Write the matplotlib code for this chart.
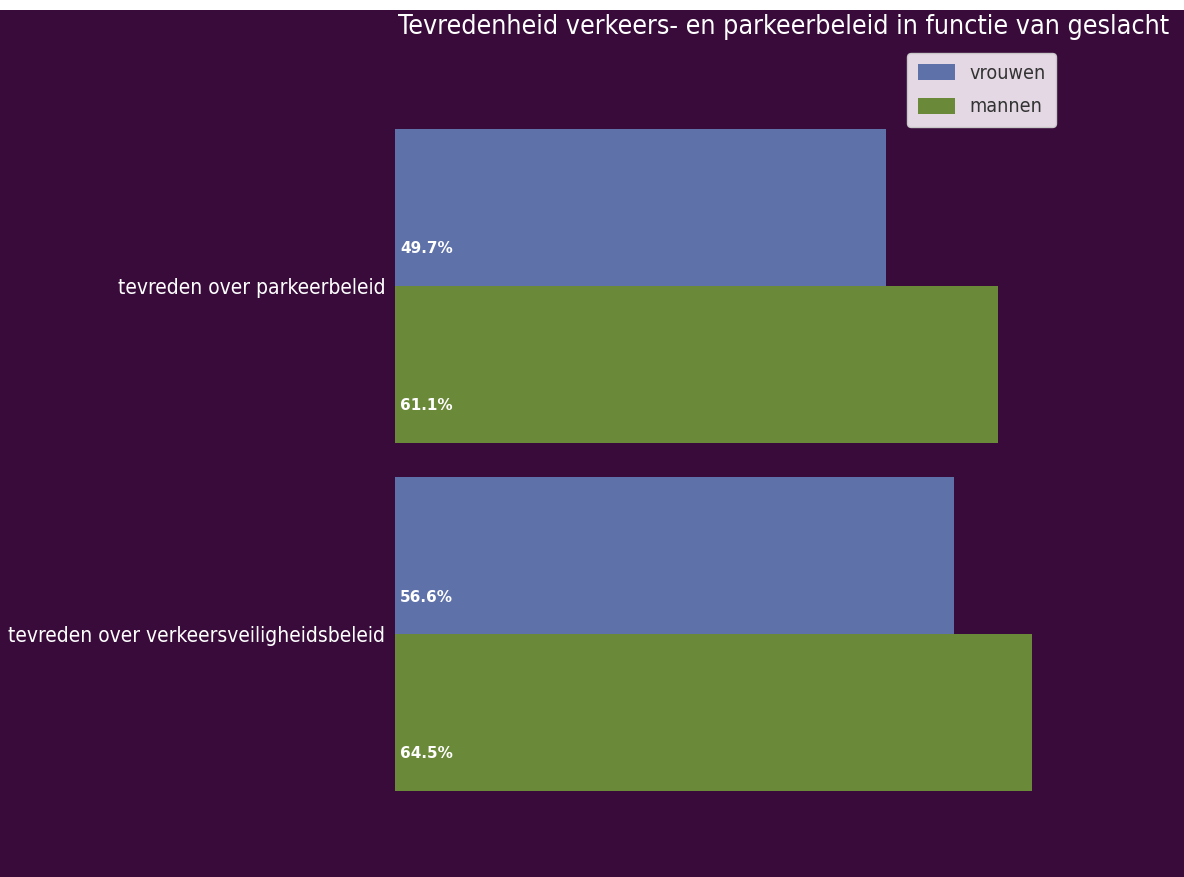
import matplotlib.pyplot as plt
import matplotlib.font_manager as fm
import numpy as np
from matplotlib.patches import Rectangle

categories = ["tevreden over verkeersveiligheidsbeleid", "tevreden over parkeerbeleid"]
vrouwen = [56.6, 49.7]
mannen = [64.5, 61.1]
series_names = ["vrouwen", "mannen"]

bg = "#390b3b"
blue = "#5f71a9"
green = "#6a8a39"

# the reference text looks narrow and tall -> use DejaVu Sans Condensed if present
cond = [f.fname for f in fm.fontManager.ttflist
        if f.name == "DejaVu Sans" and "ondensed" in str(f.stretch)
        and f.style == "normal" and f.weight in (400, "normal", "book", "regular")]
if cond:
    base = fm.FontProperties(fname=cond[0])
    k = 1.0 / 0.9
else:
    base = fm.FontProperties(family="DejaVu Sans")
    k = 1.0


def fp(size):
    p = base.copy()
    p.set_size(size * k)
    return p


fig = plt.figure(figsize=(11.84, 8.77), dpi=100, facecolor=bg)
ax = fig.add_axes([395 / 1184, 1 - 860 / 877, (1172 - 395) / 1184, (860 - 45) / 877])
ax.set_facecolor(bg)

y = np.arange(len(categories))
h = 0.45
ax.barh(y + h / 2, vrouwen, height=h, color=blue, label=series_names[0])
ax.barh(y - h / 2, mannen, height=h, color=green, label=series_names[1])

# labels at the bottom-left of each bar
for i in range(len(categories)):
    ax.text(0.5, y[i] + 0.085, f"{vrouwen[i]}%", color="white", fontsize=11,
            fontweight="bold", ha="left", va="bottom")
    ax.text(0.5, y[i] - h + 0.085, f"{mannen[i]}%", color="white", fontsize=11,
            fontweight="bold", ha="left", va="bottom")

ax.set_xlim(0, (1172 - 395) / 9.87)
ax.set_ylim(-0.649, 1.6925)
ax.set_yticks(y)
ax.set_yticklabels(categories, color="white", fontproperties=fp(13.5))
ax.tick_params(axis="y", length=0, pad=7)
ax.set_xticks([])
for s in ax.spines.values():
    s.set_visible(False)

ax.set_title("Tevredenheid verkeers- en parkeerbeleid in functie van geslacht",
             color="white", fontproperties=fp(17.3), pad=8)

leg = ax.legend(loc="upper right", bbox_to_anchor=(1056 / 1184, 1 - 53 / 877),
                bbox_transform=fig.transFigure, prop=fp(12.7), frameon=True,
                borderaxespad=0, handlelength=1.9, handleheight=0.9,
                labelspacing=0.75, borderpad=0.55, handletextpad=0.7)
leg.get_frame().set_facecolor("#ede4ed")
leg.get_frame().set_alpha(0.95)
for t in leg.get_texts():
    t.set_color("#333333")

# white strip at the top (page margin)
fig.patches.append(Rectangle((0, 1 - 10 / 877), 1, 10 / 877, transform=fig.transFigure,
                             facecolor="white", edgecolor="none", zorder=5))

fig.savefig("out.png", facecolor=bg)
